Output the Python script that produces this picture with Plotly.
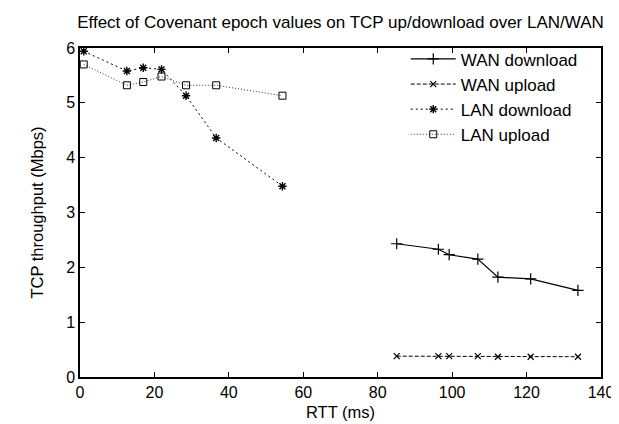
import plotly.graph_objects as go

wan_rtt = [85.1, 96.3, 99.2, 106.9, 112.3, 121.1, 133.8]
wan_download = [2.43, 2.33, 2.23, 2.15, 1.82, 1.79, 1.58]
wan_upload = [0.38, 0.38, 0.38, 0.38, 0.37, 0.37, 0.37]

lan_rtt = [1.0, 12.6, 17.0, 21.9, 28.5, 36.6, 54.4]
lan_download = [5.94, 5.58, 5.64, 5.61, 5.13, 4.36, 3.48]
lan_upload = [5.70, 5.32, 5.38, 5.48, 5.32, 5.32, 5.13]

x_ticks = [0, 20, 40, 60, 80, 100, 120, 140]
y_ticks = [0, 1, 2, 3, 4, 5, 6]

FONT = "Liberation Sans, Arial, sans-serif"

fig = go.Figure()
fig.add_trace(go.Scatter(x=wan_rtt, y=wan_download, name="WAN download", mode="lines+markers",
                         line=dict(color="black", width=1.2),
                         marker=dict(symbol="cross-thin", size=8, line=dict(color="black", width=1.2))))
fig.add_trace(go.Scatter(x=wan_rtt, y=wan_upload, name="WAN upload", mode="lines+markers",
                         line=dict(color="black", width=1, dash="4px,2px"),
                         marker=dict(symbol="x-thin", size=6, line=dict(color="black", width=1.2))))
fig.add_trace(go.Scatter(x=lan_rtt, y=lan_download, name="LAN download", mode="lines+markers",
                         line=dict(color="black", width=1, dash="2px,3px"),
                         marker=dict(symbol="asterisk", size=7, line=dict(color="black", width=1.4))))
fig.add_trace(go.Scatter(x=lan_rtt, y=lan_upload, name="LAN upload", mode="lines+markers",
                         line=dict(color="#333", width=1, dash="1px,2px"),
                         marker=dict(symbol="square-open", size=7, color="black", line=dict(width=1))))

axis_common = dict(showline=True, linecolor="black", linewidth=1.5, mirror="allticks",
                   ticks="inside", ticklen=5, tickcolor="black", showgrid=False, zeroline=False,
                   tickfont=dict(family=FONT, size=16, color="black"))

fig.update_layout(
    width=619, height=424,
    margin=dict(l=72, r=26, t=40, b=55),
    paper_bgcolor="white", plot_bgcolor="white",
    title=dict(text="Effect of Covenant epoch values on TCP up/download over LAN/WAN",
               x=0.5, xref="paper", xanchor="center", y=0.967, yanchor="middle",
               font=dict(family=FONT, size=17, color="black")),
    xaxis=dict(range=[0, 140], tickvals=x_ticks,
               title=dict(text="RTT (ms)", font=dict(family=FONT, size=16.5, color="black"), standoff=6),
               **axis_common),
    yaxis=dict(range=[0, 6], tickvals=y_ticks,
               title=dict(text="TCP throughput (Mbps)", font=dict(family=FONT, size=16.5, color="black"), standoff=18),
               **axis_common),
    legend=dict(x=0.965, y=1.02, xanchor="right", yanchor="top", bgcolor="rgba(0,0,0,0)",
                font=dict(family=FONT, size=17, color="black"), tracegroupgap=0, itemwidth=45),
    showlegend=True,
)

fig.write_html("out.html")
